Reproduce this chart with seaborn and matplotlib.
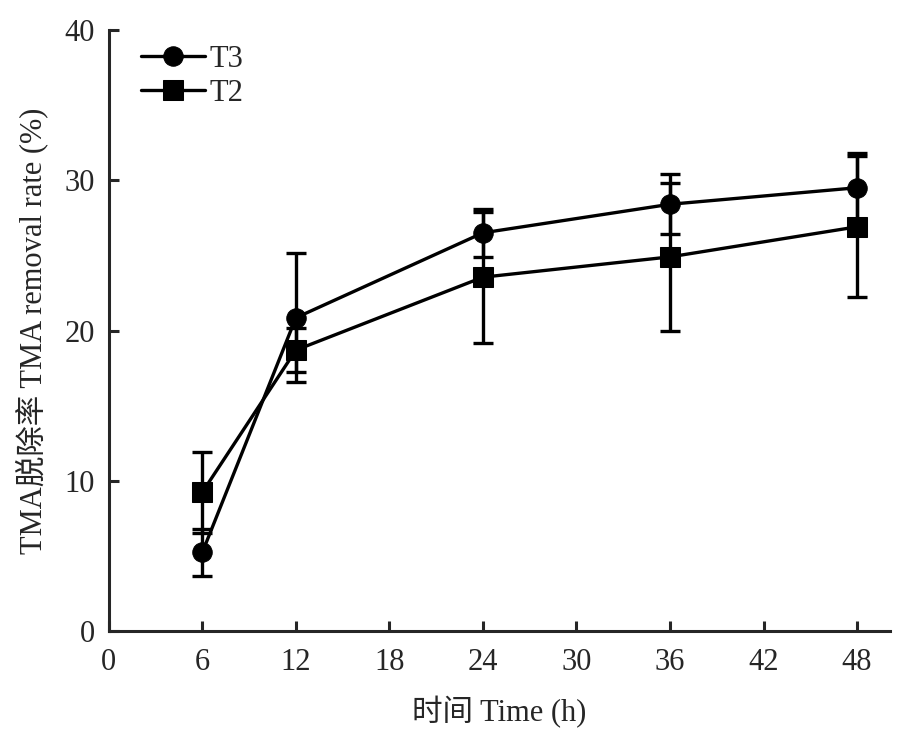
import numpy as np
import pandas as pd
import matplotlib
matplotlib.use("Agg")
import matplotlib.pyplot as plt
import seaborn as sns

# data
time_h = [6, 12, 24, 36, 48]
t3_mean = [5.25, 20.85, 26.5, 28.4, 29.5]
t3_err = [1.55, 4.3, 1.6, 2.0, 2.3]
t2_mean = [9.25, 18.7, 23.55, 24.9, 26.9]
t2_err = [2.7, 1.45, 4.35, 4.9, 4.7]
x_ticks = [0, 6, 12, 18, 24, 30, 36, 42, 48]
y_ticks = [0, 10, 20, 30, 40]

sns.set_style("ticks")
plt.rcParams["font.family"] = ["Liberation Serif", "Noto Sans CJK SC"]
plt.rcParams["xtick.direction"] = "in"
plt.rcParams["ytick.direction"] = "in"

df = pd.concat([
    pd.DataFrame({"time": time_h, "rate": t3_mean, "err": t3_err, "group": "T3"}),
    pd.DataFrame({"time": time_h, "rate": t2_mean, "err": t2_err, "group": "T2"}),
])

fig = plt.figure(figsize=(9.07, 7.47), dpi=100)
ax = fig.add_axes([0.120, 0.155, 0.861, 0.805])

markers = {"T3": "o", "T2": "s"}
# error bars first, so the lines and markers sit on top
for name, sub in df.groupby("group"):
    ax.errorbar(sub["time"], sub["rate"], yerr=sub["err"], fmt="none",
                ecolor="black", elinewidth=2.4, capsize=7, capthick=2.4, zorder=2)

sns.lineplot(data=df, x="time", y="rate", style="group", markers=markers,
             dashes=False, style_order=["T3", "T2"],
             color="black", linewidth=2.4, markersize=14, markeredgecolor="black",
             ax=ax, zorder=3)

ax.set_xlim(0, 50.1)
ax.set_ylim(0, 40)
ax.set_xticks(x_ticks)
ax.set_yticks(y_ticks)
ax.tick_params(labelsize=22, width=2.2, length=7)
ax.tick_params(axis="x", pad=12)
ax.tick_params(axis="y", pad=10)
sns.despine(ax=ax)
for side in ["left", "bottom"]:
    ax.spines[side].set_linewidth(2.2)

ax.set_xlabel("时间 Time (h)", fontsize=22, labelpad=14)
ax.set_ylabel("TMA脱除率 TMA removal rate (%)", fontsize=22, labelpad=12)

leg = ax.legend(loc="upper left", frameon=False, fontsize=22, handlelength=2.1,
                handletextpad=0.15, labelspacing=0.15, borderaxespad=0.0,
                bbox_to_anchor=(0.025, 0.995))
for h in leg.legend_handles:
    h.set_color("black")
    h.set_markersize(14)

fig.savefig("out.png", dpi=100)
